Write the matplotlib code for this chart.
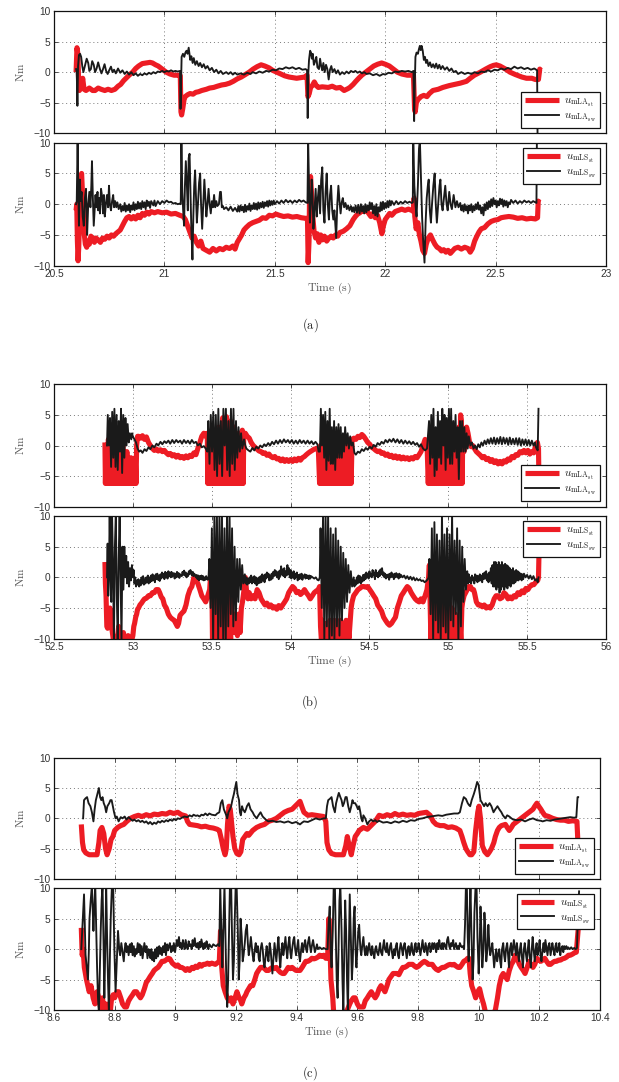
import numpy as np
import matplotlib
matplotlib.use("Agg")
import matplotlib.pyplot as plt
from matplotlib.ticker import FuncFormatter, MultipleLocator

plt.rcParams['mathtext.fontset'] = 'cm'
plt.rcParams['font.family'] = ['Liberation Sans', 'DejaVu Sans']
plt.rcParams['axes.unicode_minus'] = True

# ---------------- DATA (time s, torque Nm) ----------------
# Panel (a)
A_LA_ST = [(20.600, 0), (20.604, 4), (20.608, 3), (20.612, -2), (20.615, -3), (20.623, -2.5), (20.630, -1), (20.636, -2.8), (20.645, -3), (20.66, -2.6), (20.675, -3), (20.686, -3), (20.70, -2.6), (20.713, -2.8), (20.73, -3), (20.745, -2.8), (20.76, -3), (20.776, -2.8), (20.79, -2.3), (20.802, -2), (20.815, -1.4), (20.826, -1), (20.84, -0.5), (20.856, 0), (20.87, 0.6), (20.883, 1), (20.90, 1.4), (20.919, 1.5), (20.935, 1.6), (20.946, 1.5), (20.96, 1.2), (20.972, 1), (20.99, 0.5), (21.008, 0), (21.025, -0.3), (21.044, -0.5), (21.06, -0.5), (21.072, -0.6), (21.075, -6.5), (21.078, -7), (21.083, -6), (21.089, -4.5), (21.094, -4), (21.105, -3.7), (21.116, -3.5), (21.13, -3.6), (21.142, -3.3), (21.155, -3.2), (21.169, -3), (21.19, -2.8), (21.205, -2.6), (21.223, -2.5), (21.24, -2.3), (21.259, -2.1), (21.277, -2), (21.295, -1.8), (21.312, -1.5), (21.33, -1.1), (21.348, -0.8), (21.366, -0.4), (21.384, 0), (21.402, 0.5), (21.42, 0.9), (21.438, 1.2), (21.455, 1.0), (21.474, 0.7), (21.49, 0.3), (21.509, 0), (21.527, -0.3), (21.545, -0.6), (21.565, -0.8), (21.581, -0.9), (21.599, -1), (21.617, -0.9), (21.635, -0.8), (21.646, -0.5), (21.650, -4), (21.656, -3.5), (21.662, -2.5), (21.670, -2.2), (21.679, -1.6), (21.688, -2.2), (21.697, -2.5), (21.715, -2.4), (21.742, -2.5), (21.76, -2.3), (21.778, -2.6), (21.796, -2.5), (21.814, -3), (21.831, -2.7), (21.84, -2.5), (21.855, -2), (21.867, -1.5), (21.88, -1), (21.894, -0.5), (21.912, 0), (21.93, 0.5), (21.948, 1), (21.966, 1.3), (21.984, 1.5), (22.0, 1.3), (22.019, 1), (22.037, 0.5), (22.055, 0), (22.075, -0.3), (22.10, -0.5), (22.128, -0.5), (22.133, -6), (22.136, -6.5), (22.141, -5), (22.148, -4.5), (22.162, -4), (22.175, -3.8), (22.189, -4), (22.2, -3.5), (22.216, -3), (22.24, -2.8), (22.261, -2.5), (22.29, -2.2), (22.315, -2), (22.34, -1.8), (22.368, -1.5), (22.385, -1), (22.404, -0.5), (22.431, 0), (22.455, 0.5), (22.476, 0.9), (22.49, 1.1), (22.503, 1.2), (22.52, 1), (22.545, 0.5), (22.565, 0), (22.59, -0.4), (22.619, -0.8), (22.64, -1), (22.664, -1), (22.68, -1.2), (22.694, -1.2), (22.70, 0.5), (22.705, 0.3)]

A_LA_SW = [(20.600, 0.5), (20.603, 0), (20.606, -5.5), (20.609, 1), (20.613, 2.8), (20.618, 3), (20.623, 2.5), (20.628, 1), (20.633, 0), (20.64, 1), (20.648, 2.2), (20.655, 1.5), (20.66, 0.2), (20.667, 0.5), (20.673, 1.8), (20.68, 1.2), (20.686, 0), (20.693, 0.6), (20.70, 1.6), (20.708, 0.5), (20.715, -0.2), (20.722, 0.5), (20.729, 1.3), (20.736, 0.2), (20.743, -0.3), (20.75, 0.3), (20.758, 0.9), (20.765, 0), (20.772, 0.4), (20.78, -0.2), (20.79, 0.6), (20.80, -0.1), (20.81, 0.3), (20.82, -0.3), (20.83, 0.1), (20.84, -0.4), (20.85, 0), (20.86, -0.5), (20.87, -0.2), (20.88, -0.6), (20.89, -0.3), (20.90, -0.5), (20.91, -0.2), (20.92, -0.4), (20.93, -0.1), (20.94, -0.3), (20.95, 0), (20.96, -0.2), (20.97, 0.1), (20.98, 0), (20.99, 0.2), (21.00, 0), (21.01, 0.2), (21.02, 0.1), (21.03, 0.3), (21.04, 0.1), (21.05, 0.2), (21.06, 0.1), (21.071, 0.2), (21.073, -6), (21.076, -1), (21.078, 2.5), (21.084, 3), (21.09, 2.5), (21.095, 3.2), (21.10, 3.5), (21.105, 3), (21.11, 4), (21.113, 3.2), (21.117, 2), (21.122, 2.6), (21.128, 1.5), (21.133, 2.3), (21.14, 1.2), (21.147, 1.8), (21.155, 1), (21.162, 1.5), (21.17, 0.8), (21.178, 1.3), (21.186, 0.6), (21.195, 1), (21.205, 0.3), (21.215, 0.7), (21.225, 0), (21.235, 0.4), (21.245, -0.2), (21.255, 0.2), (21.265, -0.3), (21.28, 0), (21.29, -0.3), (21.30, 0), (21.31, -0.4), (21.32, -0.1), (21.33, -0.4), (21.345, -0.2), (21.36, -0.4), (21.375, -0.1), (21.39, -0.3), (21.40, 0), (21.415, -0.2), (21.43, 0.1), (21.445, -0.1), (21.46, 0.2), (21.475, 0.1), (21.49, 0.4), (21.505, 0.3), (21.52, 0.6), (21.535, 0.5), (21.55, 0.8), (21.565, 0.6), (21.58, 0.8), (21.595, 0.5), (21.61, 0.7), (21.625, 0.4), (21.64, 0.5), (21.646, 0.3), (21.649, -7.5), (21.652, 0), (21.655, 2), (21.66, 3.5), (21.664, 3.2), (21.668, 2.2), (21.672, 3), (21.677, 1.2), (21.683, 1.8), (21.688, 2.5), (21.693, 0.8), (21.70, 0.5), (21.705, 2.2), (21.71, 1), (21.715, 0.3), (21.72, 1.5), (21.726, 0), (21.732, 1.2), (21.738, 0.5), (21.744, -1.2), (21.75, 0.4), (21.756, 1), (21.762, 0), (21.77, 0.5), (21.778, -0.2), (21.786, 0.3), (21.795, -0.4), (21.805, 0), (21.815, -0.3), (21.825, 0.1), (21.835, -0.2), (21.845, 0.2), (21.855, 0), (21.865, 0.2), (21.875, -0.1), (21.885, 0.1), (21.895, -0.2), (21.905, 0), (21.915, -0.3), (21.93, -0.2), (21.945, -0.5), (21.96, -0.3), (21.975, -0.6), (21.99, -0.3), (22.0, -0.4), (22.015, -0.1), (22.03, -0.2), (22.045, 0.1), (22.06, 0), (22.075, 0.2), (22.09, 0.1), (22.105, 0.2), (22.12, 0), (22.128, 0.2), (22.131, -8), (22.134, -2), (22.137, 2.5), (22.142, 3.2), (22.148, 3), (22.153, 3.8), (22.157, 4.3), (22.161, 3.6), (22.165, 4.3), (22.17, 3.5), (22.175, 2), (22.18, 2.5), (22.185, 1.5), (22.19, 2), (22.196, 1), (22.203, 1.6), (22.21, 0.8), (22.217, 1.3), (22.224, 0.7), (22.231, 1.4), (22.238, 0.6), (22.245, 1.2), (22.252, 0.5), (22.26, 1), (22.27, 0.4), (22.28, 0.8), (22.29, 0.2), (22.30, 0.6), (22.31, 0), (22.32, 0.2), (22.33, -0.3), (22.345, 0), (22.36, -0.3), (22.375, -0.1), (22.39, -0.3), (22.405, 0), (22.42, -0.2), (22.435, 0.1), (22.45, 0), (22.465, 0.3), (22.48, 0.1), (22.495, 0.4), (22.51, 0.3), (22.525, 0.6), (22.54, 0.4), (22.555, 0.7), (22.57, 0.5), (22.585, 0.9), (22.60, 0.6), (22.615, 0.8), (22.63, 0.5), (22.645, 0.7), (22.66, 0.4), (22.675, 0.6), (22.688, 0.3), (22.690, -10.5)]

A_LS_ST = [(20.600, -1), (20.603, 0), (20.606, -6), (20.609, -9.2), (20.612, -7), (20.616, -2), (20.62, 4), (20.625, 5), (20.63, 1), (20.636, -4.5), (20.642, -6.5), (20.648, -7), (20.654, -6), (20.66, -6.5), (20.667, -5.2), (20.675, -5.5), (20.683, -6.2), (20.69, -5.5), (20.70, -5.8), (20.71, -6.2), (20.72, -5.5), (20.73, -5.7), (20.74, -5.2), (20.75, -5.5), (20.76, -5), (20.77, -5.2), (20.78, -4.8), (20.79, -4.5), (20.80, -4.2), (20.81, -3.5), (20.82, -2.8), (20.83, -2.2), (20.84, -2.0), (20.85, -2.4), (20.86, -2), (20.87, -2.4), (20.88, -1.8), (20.89, -2.2), (20.90, -1.5), (20.91, -1.8), (20.92, -1.3), (20.93, -1.6), (20.94, -1.2), (20.955, -1.4), (20.97, -1.2), (20.99, -1.4), (21.01, -1.3), (21.03, -1.6), (21.05, -1.5), (21.07, -1.8), (21.085, -2), (21.095, -2.5), (21.105, -3.5), (21.115, -4.5), (21.125, -5.5), (21.135, -5.2), (21.145, -6.2), (21.155, -6.8), (21.165, -6), (21.175, -7.2), (21.19, -7.5), (21.205, -7.8), (21.22, -7.2), (21.235, -7.6), (21.25, -7.2), (21.265, -7.4), (21.28, -7), (21.295, -7.2), (21.31, -6.8), (21.32, -7.3), (21.33, -6.2), (21.34, -5.6), (21.35, -5), (21.36, -4.2), (21.37, -3.8), (21.385, -3.3), (21.40, -3), (21.415, -2.8), (21.43, -2.6), (21.445, -2.2), (21.46, -2.3), (21.475, -1.8), (21.49, -1.9), (21.505, -1.6), (21.52, -1.8), (21.54, -2), (21.56, -1.9), (21.58, -2.1), (21.60, -2), (21.62, -2.2), (21.64, -2.3), (21.648, -2.3), (21.651, -9.5), (21.655, -6), (21.658, 3), (21.662, 4.5), (21.666, 2), (21.672, -2), (21.678, -4.5), (21.685, -5.5), (21.692, -4.8), (21.70, -6.2), (21.708, -5), (21.716, -5.8), (21.725, -5.2), (21.735, -6), (21.745, -5.5), (21.755, -5.2), (21.765, -5.5), (21.775, -5), (21.785, -5.2), (21.795, -4.6), (21.81, -4.4), (21.825, -4), (21.84, -3.5), (21.855, -2.5), (21.865, -2), (21.875, -1.6), (21.885, -1.4), (21.895, -1), (21.905, -1.2), (21.915, -0.8), (21.925, -1.5), (21.935, -2), (21.945, -1.5), (21.955, -2.2), (21.965, -1.8), (21.975, -3), (21.985, -4.8), (21.992, -3.5), (22.0, -2.5), (22.01, -2), (22.02, -1.5), (22.03, -1.8), (22.045, -1.2), (22.06, -1), (22.075, -0.8), (22.09, -1), (22.105, -0.8), (22.12, -1), (22.128, -1.2), (22.131, 1), (22.134, -2), (22.14, -4), (22.148, -3), (22.155, -5), (22.162, -6), (22.17, -7.5), (22.178, -8), (22.186, -6.5), (22.195, -5.5), (22.205, -5), (22.215, -5.8), (22.225, -6.5), (22.235, -7), (22.245, -7.2), (22.255, -7.6), (22.265, -7.4), (22.275, -7.8), (22.285, -7.5), (22.295, -8), (22.305, -7.6), (22.315, -7.2), (22.33, -7), (22.345, -7.3), (22.36, -7), (22.375, -7.2), (22.385, -7.8), (22.395, -7.2), (22.405, -6), (22.415, -5.2), (22.425, -4.5), (22.435, -4), (22.45, -3.8), (22.465, -3.2), (22.48, -2.8), (22.495, -2.6), (22.51, -2.5), (22.525, -2.2), (22.54, -2.1), (22.56, -2), (22.58, -2.1), (22.60, -2.3), (22.62, -2.2), (22.64, -2.4), (22.66, -2.3), (22.68, -2.4), (22.69, -2.2), (22.693, 0.5), (22.70, 0.3)]

A_LS_SW = [(20.600, 0), (20.603, 0.5), (20.607, 10.5), (20.610, 2), (20.613, -3.5), (20.617, 4), (20.621, 0.5), (20.625, 2), (20.63, -2), (20.635, -3.5), (20.64, 1), (20.645, 2.5), (20.65, -5), (20.655, 0), (20.66, 2), (20.665, -0.5), (20.669, 3), (20.672, 7), (20.676, 1), (20.68, -3.5), (20.684, -1), (20.688, 1.5), (20.692, -0.5), (20.697, 2), (20.70, -1), (20.705, 1), (20.708, -1.5), (20.713, 2.5), (20.718, 1.2), (20.722, -1.5), (20.726, 1.5), (20.73, -2), (20.735, 0), (20.74, 1.5), (20.745, -0.5), (20.749, 3), (20.753, 0), (20.758, -1), (20.763, 0.5), (20.768, 1.5), (20.772, -0.5), (20.777, 0.5), (20.782, -0.5), (20.787, 0.3), (20.793, -0.8), (20.80, 0), (20.805, -1.2), (20.81, -0.3), (20.815, -1), (20.82, 0.2), (20.825, -1.2), (20.83, -0.2), (20.835, -1), (20.84, 0), (20.845, -1.3), (20.85, -0.2), (20.855, -0.9), (20.86, 0.3), (20.865, -1), (20.87, 0), (20.875, -0.8), (20.88, 0.4), (20.885, -0.7), (20.89, 0.2), (20.895, -0.8), (20.90, 0.5), (20.905, -0.5), (20.91, 0.3), (20.915, -0.8), (20.92, 0.6), (20.925, -0.3), (20.93, 0.4), (20.935, -0.6), (20.94, 0.5), (20.95, -0.2), (20.955, 0.6), (20.96, -0.3), (20.97, 0.5), (20.98, 0), (20.99, 0.5), (21.0, 0.2), (21.01, 0.6), (21.02, 0.3), (21.03, 0.4), (21.04, 0.1), (21.05, 0.2), (21.06, 0), (21.07, 0.1), (21.074, 0), (21.077, 10.5), (21.081, 2), (21.085, -1), (21.089, -3.5), (21.093, 3), (21.097, 7), (21.102, 3), (21.106, -1), (21.11, 7.5), (21.114, 8.2), (21.118, 2), (21.122, -4), (21.127, -9), (21.131, -2), (21.135, 3), (21.139, 5.5), (21.143, 1), (21.147, -3), (21.152, 0), (21.157, 3.5), (21.162, 5), (21.166, 0), (21.171, -4), (21.176, 0), (21.181, 4), (21.186, 0.5), (21.19, -2), (21.195, 0), (21.2, 2.5), (21.205, 0), (21.21, -1.5), (21.215, 0.5), (21.22, -0.5), (21.225, 1.5), (21.23, -0.5), (21.235, 0.5), (21.24, -0.3), (21.247, 0), (21.252, 2), (21.256, 2), (21.26, -0.5), (21.265, -0.3), (21.27, -0.8), (21.28, -0.5), (21.29, -1), (21.30, -0.4), (21.31, -1.1), (21.32, -0.6), (21.33, -1.2), (21.335, -0.3), (21.34, -1.2), (21.345, -0.2), (21.35, -1), (21.355, -0.4), (21.36, -1.3), (21.365, -0.1), (21.37, -1.2), (21.375, -0.3), (21.38, -0.9), (21.385, 0.1), (21.39, -1.1), (21.395, -0.2), (21.40, -0.8), (21.405, 0.2), (21.41, -0.8), (21.415, 0.1), (21.42, -0.9), (21.425, 0.3), (21.43, -0.7), (21.435, 0.2), (21.44, -0.5), (21.445, 0.4), (21.45, -0.6), (21.455, 0.3), (21.46, -0.3), (21.465, 0.5), (21.47, -0.4), (21.475, 0.6), (21.48, -0.2), (21.485, 0.5), (21.49, -0.1), (21.495, 0.6), (21.50, 0), (21.51, 0.5), (21.52, 0.1), (21.53, 0.6), (21.54, 0.2), (21.55, 0.7), (21.56, 0.3), (21.57, 0.6), (21.58, 0.2), (21.59, 0.6), (21.60, 0.3), (21.61, 0.7), (21.62, 0.4), (21.63, 0.6), (21.64, 0.3), (21.648, 0.2), (21.651, 10.5), (21.655, 3), (21.659, -3), (21.663, 0), (21.667, 4), (21.671, 1), (21.675, -4), (21.68, -1), (21.685, 2.5), (21.69, -2), (21.695, 1), (21.70, 3), (21.705, -1.5), (21.71, 4), (21.715, 6), (21.72, -1), (21.725, -3), (21.73, 2), (21.735, 5), (21.74, 0), (21.745, -2.5), (21.75, 1.5), (21.755, 3), (21.76, -1), (21.765, -2.5), (21.77, -1), (21.778, -5.5), (21.783, 0), (21.788, 3), (21.793, 0.5), (21.798, -1.5), (21.803, 0.3), (21.808, 1), (21.814, -0.5), (21.82, 0.2), (21.826, -0.8), (21.832, -0.2), (21.838, -1), (21.845, -0.3), (21.85, -1.2), (21.855, -0.5), (21.86, -1.3), (21.866, -0.2), (21.872, -1.4), (21.878, -0.1), (21.884, -1.5), (21.89, 0), (21.895, -1.2), (21.90, -0.3), (21.905, -1.5), (21.91, 0), (21.915, -1.3), (21.92, -0.2), (21.925, -1), (21.93, 0.3), (21.935, -0.8), (21.94, 0.2), (21.945, -1.5), (21.95, -0.3), (21.955, -1.8), (21.96, 0), (21.965, -2), (21.97, -0.5), (21.975, -1.2), (21.98, 0.3), (21.985, -1), (21.99, 0.4), (21.995, -0.8), (22.0, 0.2), (22.005, -0.6), (22.01, 0.5), (22.015, -0.5), (22.02, 0.6), (22.025, -0.2), (22.03, 0.5), (22.04, -0.1), (22.05, 0.5), (22.06, 0), (22.07, 0.4), (22.08, 0.1), (22.09, 0.5), (22.10, 0.2), (22.11, 0.4), (22.12, 0.2), (22.125, 0.3), (22.127, 10.5), (22.132, 3), (22.137, 0), (22.142, -2), (22.148, 3), (22.153, 9), (22.157, 10.5), (22.162, 4), (22.167, -2), (22.172, -6), (22.178, -9.5), (22.183, -3), (22.188, 1), (22.193, 3), (22.197, 4), (22.202, -1), (22.207, -3), (22.212, 0), (22.218, 3), (22.224, 5), (22.229, 0), (22.234, -3), (22.24, 0), (22.246, 3), (22.25, 4), (22.255, 0), (22.26, -1), (22.266, 1), (22.272, 3), (22.278, 0), (22.283, -1), (22.29, 2), (22.296, 0), (22.302, -0.8), (22.31, 1.5), (22.318, -0.5), (22.325, 0.5), (22.332, -0.5), (22.34, 0.2), (22.345, -1), (22.35, -0.2), (22.355, -1.2), (22.36, 0), (22.365, -1), (22.37, -0.3), (22.375, -1.5), (22.38, -0.2), (22.385, -1), (22.39, 0), (22.395, -1.3), (22.40, -0.3), (22.405, -1), (22.41, 0), (22.415, -0.8), (22.42, 0.3), (22.425, -0.9), (22.43, -0.2), (22.435, -1.5), (22.44, -0.5), (22.445, -1.8), (22.45, 0), (22.455, -1), (22.46, 0.3), (22.465, -0.8), (22.47, 0.5), (22.475, -0.5), (22.48, 0.8), (22.485, -0.3), (22.49, 1), (22.495, 0), (22.50, 0.6), (22.505, -0.5), (22.51, 0.5), (22.515, -0.2), (22.52, 0.9), (22.525, 0), (22.53, 0.8), (22.535, -0.4), (22.54, 0.6), (22.545, -0.2), (22.55, 0.5), (22.555, -0.5), (22.56, 0.3), (22.565, 0), (22.57, 0.7), (22.58, 0.2), (22.59, 0.6), (22.60, 0.1), (22.61, 0.5), (22.62, 0.2), (22.63, 0.6), (22.64, 0.3), (22.65, 0.5), (22.66, 0.2), (22.67, 0.5), (22.68, 0.3), (22.685, 0.2), (22.687, 10.5)]

# Panel (b)
B_LA_ST = [(52.823, 0.5), (52.826, -6.2), (52.832, 0), (52.838, -6.2), (52.845, 1), (52.851, -6.2), (52.858, 3), (52.864, -6.2), (52.871, 2), (52.877, -6.2), (52.884, 0.5), (52.890, -6.2), (52.897, 1.5), (52.903, -6.2), (52.910, 0), (52.916, -6.2), (52.923, -1), (52.929, -6.2), (52.936, 0.5), (52.942, -6.2), (52.949, -2), (52.955, -6.2), (52.962, -1), (52.968, -6.2), (52.975, -3), (52.981, -6.2), (52.988, -2), (52.994, -6.2), (53.001, -3), (53.008, -6.2), (53.015, -2), (53.02, -6.2), (53.024, 0), (53.03, 1.5), (53.036, 1.5), (53.05, 1.2), (53.061, 1.6), (53.074, 1), (53.086, 1.4), (53.099, 0.5), (53.111, 0), (53.124, -0.5), (53.136, -0.8), (53.15, -0.6), (53.161, -0.9), (53.175, -0.7), (53.187, -1), (53.2, -0.8), (53.212, -1.2), (53.225, -1.5), (53.237, -1.3), (53.25, -1.7), (53.262, -1.5), (53.275, -1.9), (53.287, -1.6), (53.3, -2), (53.312, -1.8), (53.324, -2.1), (53.337, -1.7), (53.349, -2), (53.362, -1.6), (53.374, -1.8), (53.387, -1.2), (53.4, -1.5), (53.412, -0.5), (53.425, 0.5), (53.437, 1.5), (53.45, 2), (53.462, 1.5), (53.472, 2), (53.475, -6.2), (53.481, 1.5), (53.487, -6.2), (53.494, 2), (53.50, -6.2), (53.506, 0), (53.512, -6.2), (53.519, 2), (53.525, -6.2), (53.531, 1), (53.537, -6.2), (53.544, 3), (53.55, -6.2), (53.556, 2), (53.562, -6.2), (53.569, 4.5), (53.575, -6.2), (53.581, 2), (53.587, -6.2), (53.594, 4.7), (53.60, -6.2), (53.606, 3), (53.612, -6.2), (53.619, 4), (53.625, -6.2), (53.631, 2), (53.638, -6.2), (53.644, 3), (53.65, -6.2), (53.656, 1), (53.663, -6.2), (53.669, 2), (53.675, -6.2), (53.681, 0), (53.688, -6.2), (53.694, 2.5), (53.70, -6.2), (53.703, 2), (53.713, 2), (53.725, 1.5), (53.738, 1.2), (53.75, 0.5), (53.763, 0), (53.775, -0.3), (53.788, -0.6), (53.8, -0.9), (53.813, -1), (53.825, -1.3), (53.838, -1.2), (53.85, -1.6), (53.863, -1.4), (53.875, -1.8), (53.888, -2), (53.9, -1.8), (53.913, -2.2), (53.925, -2.1), (53.938, -2.5), (53.95, -2.2), (53.963, -2.6), (53.975, -2.3), (53.988, -2.6), (54.0, -2.3), (54.013, -2.6), (54.025, -2.2), (54.038, -2.5), (54.05, -2.1), (54.063, -2.4), (54.075, -2), (54.088, -1.8), (54.1, -1.5), (54.114, -1.2), (54.125, -1), (54.138, -0.8), (54.15, -0.6), (54.164, -0.5), (54.176, -0.5), (54.184, -6.2), (54.19, 0), (54.197, -6.2), (54.203, 1), (54.209, -6.2), (54.216, 0), (54.222, -6.2), (54.228, 1), (54.234, -6.2), (54.241, -1), (54.247, -6.2), (54.253, 0.5), (54.259, -6.2), (54.266, -1), (54.272, -6.2), (54.278, 0), (54.284, -6.2), (54.291, -1.5), (54.297, -6.2), (54.303, 0.5), (54.309, -6.2), (54.316, -0.5), (54.322, -6.2), (54.328, 1), (54.334, -6.2), (54.341, 0), (54.347, -6.2), (54.353, 1), (54.359, -6.2), (54.366, 0.5), (54.372, -6.2), (54.378, 1), (54.384, -6.2), (54.39, 1), (54.402, 1.2), (54.414, 1), (54.427, 1.5), (54.439, 1.3), (54.452, 1.8), (54.464, 1.5), (54.477, 1), (54.489, 0.5), (54.502, 0.2), (54.515, -0.3), (54.527, -0.5), (54.54, -0.8), (54.552, -1), (54.565, -0.9), (54.577, -1.3), (54.59, -1.2), (54.602, -1.6), (54.615, -1.4), (54.627, -1.8), (54.64, -1.6), (54.652, -2), (54.665, -1.7), (54.677, -2.1), (54.69, -1.8), (54.702, -2.2), (54.715, -1.9), (54.727, -2.2), (54.74, -2), (54.752, -2.3), (54.765, -2), (54.777, -2.2), (54.79, -1.8), (54.802, -2), (54.815, -1.5), (54.827, -1), (54.84, 0), (54.853, 1), (54.865, 0.5), (54.873, -6.2), (54.879, 0), (54.885, -6.2), (54.892, 1), (54.898, -6.2), (54.904, -0.5), (54.91, -6.2), (54.917, 1), (54.923, -6.2), (54.929, 0), (54.935, -6.2), (54.942, 1.5), (54.948, -6.2), (54.954, -1), (54.96, -6.2), (54.967, 0.5), (54.973, -6.2), (54.979, -1), (54.985, -6.2), (54.992, 0), (54.998, -6.2), (55.004, 1), (55.01, -6.2), (55.017, -1), (55.023, -6.2), (55.029, 0), (55.035, -6.2), (55.042, -1), (55.048, -6.2), (55.054, 2), (55.06, -6.2), (55.067, 3), (55.073, -6.2), (55.078, 5), (55.083, 4), (55.088, -6.2), (55.091, 0), (55.1, -1), (55.11, 1), (55.116, 3), (55.125, 2), (55.135, 0.5), (55.145, -0.2), (55.155, 0), (55.166, -0.5), (55.178, -1), (55.19, -1.3), (55.203, -1.6), (55.216, -2), (55.228, -1.8), (55.241, -2.3), (55.253, -2.1), (55.266, -2.6), (55.278, -2.3), (55.291, -2.8), (55.303, -2.5), (55.316, -3), (55.328, -2.6), (55.341, -3), (55.353, -2.5), (55.366, -2.7), (55.378, -2.2), (55.391, -2.4), (55.403, -1.8), (55.416, -2), (55.428, -1.5), (55.441, -1.6), (55.454, -1), (55.467, -1.2), (55.48, -0.8), (55.492, -1.2), (55.505, -0.8), (55.517, -1.4), (55.53, -1), (55.542, -1.2), (55.554, 0), (55.565, 0.5), (55.572, -0.5), (55.575, -6.2)]

B_LA_SW = [(52.836, 0), (52.841, 5), (52.848, 0), (52.855, 4.5), (52.862, -3.5), (52.869, 5.5), (52.876, -2), (52.883, 6), (52.89, -3.5), (52.897, 5), (52.904, -4), (52.911, 4), (52.918, -1), (52.925, 6), (52.932, -4.5), (52.939, 5), (52.946, -2), (52.953, 4.5), (52.96, 0), (52.967, 3.5), (52.974, 0.5), (52.981, 2), (52.99, 1), (52.995, 2), (53.0, 1.5), (53.01, 1), (53.02, 0.5), (53.03, -0.5), (53.04, -1), (53.05, -0.8), (53.061, -1.2), (53.074, -0.6), (53.086, -0.9), (53.099, -0.3), (53.111, -0.6), (53.124, 0), (53.136, -0.3), (53.15, 0.3), (53.161, 0), (53.175, 0.6), (53.187, 0.2), (53.2, 0.7), (53.212, 0.4), (53.225, 0.8), (53.237, 0.3), (53.25, 0.9), (53.262, 0.4), (53.275, 0.9), (53.287, 0.5), (53.3, 0.8), (53.312, 0.3), (53.324, 0.9), (53.337, 0.4), (53.349, 0.8), (53.362, 0.3), (53.374, 0.9), (53.387, 0.4), (53.4, 0.6), (53.412, 0), (53.425, 0.3), (53.437, -0.3), (53.45, -0.1), (53.462, -0.5), (53.472, -1), (53.478, 4), (53.486, -3), (53.494, 5), (53.502, -1), (53.51, 5.5), (53.518, -4), (53.526, 5), (53.534, -5), (53.542, 6), (53.55, -3), (53.558, 4), (53.566, -5), (53.574, 6), (53.582, 0), (53.59, 6), (53.598, -4), (53.606, 4), (53.614, -5), (53.622, 6), (53.63, -3), (53.638, 6), (53.646, -4), (53.654, 4), (53.662, -2), (53.67, 3), (53.678, -1), (53.686, 2), (53.694, -0.5), (53.705, 1), (53.713, 0), (53.72, -0.5), (53.733, -0.8), (53.745, -1), (53.758, -0.4), (53.77, -0.8), (53.783, -0.2), (53.795, -0.5), (53.808, 0), (53.82, -0.3), (53.833, 0.2), (53.845, -0.1), (53.858, 0.4), (53.87, 0), (53.883, 0.6), (53.895, 0.2), (53.908, 0.8), (53.92, 0.3), (53.933, 0.9), (53.945, 0.4), (53.958, 1), (53.97, 0.5), (53.983, 0.9), (53.995, 0.4), (54.008, 0.9), (54.02, 0.3), (54.033, 0.8), (54.045, 0.3), (54.058, 0.9), (54.07, 0.4), (54.083, 0.8), (54.095, 0.3), (54.108, 0.8), (54.12, 0.3), (54.133, 0.7), (54.145, 0.2), (54.158, 0.6), (54.17, 0.2), (54.178, -1), (54.186, -1), (54.192, 6), (54.199, 0), (54.206, 5), (54.213, -2), (54.22, 5.5), (54.227, -4), (54.234, 4), (54.241, -2.5), (54.248, 6), (54.255, -3), (54.262, 3), (54.269, -3), (54.276, 4), (54.283, -4), (54.29, 3), (54.297, -2), (54.304, 3.5), (54.311, -2), (54.318, 3), (54.325, -2), (54.332, 2), (54.339, -1), (54.346, 3), (54.354, 0), (54.362, 2), (54.37, -0.5), (54.378, 1.5), (54.386, 0), (54.395, 0.5), (54.405, -1.2), (54.414, -1.5), (54.427, -1), (54.439, -1.2), (54.452, -0.6), (54.464, -0.9), (54.477, -0.4), (54.489, -0.7), (54.502, -0.2), (54.515, -0.5), (54.527, 0.1), (54.54, -0.2), (54.552, 0.4), (54.565, 0.1), (54.577, 0.6), (54.59, 0.3), (54.602, 0.9), (54.615, 0.5), (54.627, 1), (54.64, 0.6), (54.652, 1.1), (54.665, 0.5), (54.677, 1), (54.69, 0.4), (54.702, 0.9), (54.715, 0.3), (54.727, 0.8), (54.74, 0.3), (54.752, 0.7), (54.765, 0.2), (54.777, 0.6), (54.79, 0.1), (54.802, 0.4), (54.815, -0.2), (54.827, 0.2), (54.84, -0.5), (54.853, -0.8), (54.865, -0.5), (54.878, 4), (54.885, -3), (54.892, 5), (54.899, -2), (54.906, 6), (54.913, -5), (54.92, 3), (54.927, -4), (54.934, 5.5), (54.941, -2), (54.948, 4), (54.955, -3), (54.962, 6), (54.969, 0), (54.976, 5), (54.983, -4), (54.99, 4.5), (54.997, -2), (55.004, 6), (55.011, -3), (55.018, 6), (55.025, -3), (55.032, 4), (55.039, -1), (55.046, 5), (55.053, -2), (55.06, 3), (55.067, -5.5), (55.074, 4), (55.081, -1), (55.088, 4), (55.095, -1), (55.102, 3), (55.109, -1), (55.116, 2), (55.123, -0.5), (55.13, 1.5), (55.14, 0), (55.15, 0.5), (55.16, -0.5), (55.17, 0), (55.18, -0.6), (55.19, 0.2), (55.2, -0.3), (55.21, 0.5), (55.22, 0), (55.23, 0.8), (55.24, 0.2), (55.25, 1), (55.26, 0.3), (55.27, 1.2), (55.28, 0.3), (55.29, 1.3), (55.3, 0.2), (55.31, 1.2), (55.32, 0.3), (55.33, 1.4), (55.34, 0.2), (55.35, 1.3), (55.36, 0.3), (55.37, 1.2), (55.38, 0.1), (55.39, 1.3), (55.4, 0.2), (55.41, 1.1), (55.42, 0.2), (55.43, 1.2), (55.44, 0.1), (55.45, 1.2), (55.46, 0), (55.47, 1), (55.48, 0.1), (55.49, 1), (55.5, 0), (55.51, 0.9), (55.52, 0), (55.53, 0.8), (55.54, 0), (55.55, 0.5), (55.555, -0.2), (55.56, -0.5), (55.567, -0.8), (55.572, 6)]

B_LS_ST = [(52.823, 2.5), (52.826, -1), (52.83, -3), (52.835, -8), (52.84, -8.3), (52.845, -6), (52.85, -8), (52.855, -5), (52.86, -7.5), (52.865, -8), (52.87, -9), (52.878, -10.5), (52.89, -10.5), (52.90, -10.5), (52.91, -8), (52.92, -10.5), (52.93, -10.5), (52.94, -9), (52.95, -10.5), (52.96, -10.5), (52.97, -9.5), (52.98, -10.5), (52.99, -10.5), (53.0, -9.5), (53.006, -8), (53.011, -7.5), (53.018, -6.5), (53.024, -6), (53.03, -5.2), (53.036, -5), (53.045, -4.5), (53.055, -4.2), (53.065, -3.8), (53.074, -3.5), (53.086, -3.4), (53.099, -3), (53.111, -3), (53.124, -2.5), (53.136, -2.5), (53.148, -2), (53.161, -2), (53.17, -2.5), (53.18, -3.2), (53.19, -3.5), (53.2, -4.5), (53.212, -5), (53.225, -6), (53.237, -6.5), (53.25, -6.8), (53.262, -7), (53.272, -7.5), (53.282, -8), (53.29, -7.5), (53.299, -6.2), (53.312, -5.8), (53.324, -5.5), (53.337, -4.5), (53.349, -3), (53.362, -2), (53.374, -1.5), (53.387, 0), (53.4, -0.5), (53.412, -1), (53.425, -2), (53.437, -3), (53.45, -3.5), (53.462, -4), (53.475, -3), (53.487, -2), (53.495, 1), (53.5, 2), (53.505, -10.5), (53.51, -5), (53.515, -10.5), (53.52, -2), (53.525, -10.5), (53.53, -8), (53.535, -10.5), (53.54, 0), (53.545, -10.5), (53.55, -6), (53.555, -10.5), (53.56, -4), (53.565, -10.5), (53.57, -7), (53.575, -10.5), (53.58, -3), (53.585, -10.5), (53.59, -6), (53.595, -10.5), (53.6, -2), (53.605, -8), (53.61, -10.5), (53.615, -6), (53.62, -10.5), (53.625, -3), (53.63, -9), (53.638, -8), (53.645, -6), (53.65, -9), (53.655, -7), (53.663, -9.5), (53.67, -6), (53.68, -9), (53.688, -5), (53.695, -4), (53.705, -2), (53.713, 0), (53.72, -2), (53.73, -3.5), (53.738, -2.5), (53.75, -3.5), (53.763, -3), (53.775, -3.5), (53.788, -2), (53.8, -2.5), (53.813, -3.5), (53.825, -4), (53.838, -4.5), (53.85, -4.2), (53.863, -4.8), (53.875, -4.5), (53.888, -5), (53.9, -4.8), (53.913, -5.2), (53.925, -4.6), (53.938, -5), (53.95, -4.5), (53.963, -4), (53.975, -3.5), (53.988, -2.5), (54.0, -2), (54.013, -1.5), (54.025, -1.8), (54.038, -2.5), (54.05, -2.3), (54.063, -2.8), (54.075, -2.5), (54.088, -2), (54.1, -2.5), (54.114, -3), (54.125, -3.5), (54.138, -3), (54.15, -2.5), (54.164, -2.2), (54.176, -2), (54.184, -1.5), (54.19, -8), (54.196, -10.5), (54.202, -7), (54.208, -10), (54.214, -8), (54.22, -10.5), (54.226, -7.5), (54.232, -9.5), (54.238, -8), (54.244, -10.5), (54.25, -7), (54.256, -9), (54.262, -10.5), (54.268, -7), (54.274, -9), (54.28, -8), (54.286, -10.5), (54.292, -7), (54.298, -9.5), (54.304, -8), (54.31, -10), (54.316, -7), (54.322, -9), (54.328, -7.5), (54.334, -10.5), (54.34, -8), (54.346, -9), (54.352, -7), (54.358, -9.5), (54.364, -8), (54.37, -10), (54.378, -7), (54.384, -5), (54.39, -4), (54.4, -3), (54.414, -2.5), (54.427, -2), (54.439, -1.8), (54.452, -1.5), (54.464, -1.5), (54.477, -1.6), (54.489, -1.5), (54.502, -2), (54.515, -2.5), (54.527, -3), (54.54, -3.5), (54.552, -4.5), (54.565, -5), (54.577, -5.5), (54.59, -6.5), (54.602, -7), (54.615, -7.5), (54.627, -7.8), (54.64, -7.5), (54.652, -7), (54.665, -6.5), (54.677, -5), (54.69, -4), (54.702, -3), (54.715, -2.5), (54.727, -2), (54.74, -1.5), (54.752, -1.8), (54.765, -2.5), (54.777, -3), (54.79, -3.5), (54.802, -3.8), (54.815, -4), (54.827, -3.5), (54.84, -4), (54.853, -3), (54.865, -2), (54.875, 0), (54.88, 2), (54.885, -4), (54.89, -10.5), (54.895, -3), (54.9, -10.5), (54.905, -6), (54.91, -10.5), (54.915, -2), (54.92, -10.5), (54.925, -8), (54.93, -10.5), (54.935, -4), (54.94, -10.5), (54.945, -7), (54.95, -10.5), (54.955, -5), (54.96, -10.5), (54.965, -8), (54.97, -10.5), (54.975, -3), (54.98, -10.5), (54.985, -6), (54.99, -10.5), (54.995, -8), (55.0, -10.5), (55.005, -4), (55.01, -10.5), (55.015, -7), (55.02, -10.5), (55.025, -5), (55.03, -10.5), (55.035, -8), (55.04, -10.5), (55.045, -6), (55.05, -10.5), (55.055, -8), (55.06, -10.5), (55.065, -7), (55.07, -10.5), (55.075, -8), (55.08, -10.5), (55.086, -5), (55.091, -4), (55.1, -3), (55.11, -2.5), (55.12, -2), (55.13, -1.5), (55.141, -1.5), (55.15, -2), (55.16, -2), (55.166, -2.5), (55.178, -4), (55.19, -4.5), (55.203, -4.5), (55.216, -4.8), (55.228, -4.5), (55.241, -5), (55.253, -4.8), (55.266, -5), (55.278, -4.5), (55.291, -3.5), (55.303, -3), (55.316, -3), (55.328, -3.5), (55.341, -3.3), (55.353, -2.5), (55.366, -2.8), (55.378, -3.5), (55.391, -3.2), (55.403, -3.5), (55.416, -3), (55.428, -3.2), (55.441, -2.5), (55.454, -2.8), (55.467, -2.2), (55.48, -2.5), (55.492, -1.8), (55.505, -2), (55.517, -1.5), (55.53, -1.2), (55.542, -1.2), (55.554, -0.8), (55.567, -0.5), (55.572, 0), (55.576, 5)]

B_LS_SW = [(52.836, 0), (52.84, 5.5), (52.844, -3), (52.849, 2), (52.853, 10.5), (52.858, 0), (52.863, -4), (52.868, 10.5), (52.874, 2), (52.88, -10.5), (52.886, 5), (52.892, 10.5), (52.898, -3), (52.904, -10.5), (52.91, 3), (52.916, 10.5), (52.922, 0), (52.928, -10.5), (52.934, 5), (52.94, -2), (52.946, 5), (52.952, 0), (52.958, 3.5), (52.964, -1), (52.97, 2.5), (52.976, -1.5), (52.982, 1.5), (52.988, -0.5), (52.994, 2), (53.0, 0), (53.005, 1.2), (53.01, -1), (53.015, 0), (53.02, -1.5), (53.025, -0.5), (53.03, -1.2), (53.035, -0.3), (53.04, -1.5), (53.045, -0.5), (53.05, -1.3), (53.055, 0), (53.06, -1), (53.065, 0.2), (53.07, -1.2), (53.075, -0.3), (53.08, -1), (53.085, 0), (53.09, -0.8), (53.095, 0.3), (53.1, -1), (53.105, 0), (53.11, -0.8), (53.115, 0.3), (53.12, -0.6), (53.125, 0.5), (53.13, -0.5), (53.135, 0.2), (53.14, -0.8), (53.145, 0.5), (53.15, -0.3), (53.155, 0.6), (53.16, -0.4), (53.165, 0.3), (53.17, -0.6), (53.175, 0.5), (53.18, -0.2), (53.185, 0.8), (53.19, 0), (53.195, 0.6), (53.2, -0.3), (53.205, 0.9), (53.21, 0), (53.215, 0.7), (53.22, -0.2), (53.225, 1), (53.23, 0.2), (53.235, 0.8), (53.24, 0), (53.245, 0.9), (53.25, 0.1), (53.26, 0.7), (53.265, -0.2), (53.27, 0.6), (53.275, 0), (53.28, 0.9), (53.285, 0.1), (53.29, 0.7), (53.295, -0.1), (53.3, 0.5), (53.31, 0.2), (53.315, 0.9), (53.32, 0.4), (53.325, 1.1), (53.33, 0.3), (53.335, 0.8), (53.34, 0), (53.345, 0.6), (53.35, 0.2), (53.355, 1), (53.36, 0.5), (53.365, 1.2), (53.37, 0.8), (53.375, 0.3), (53.38, 0.9), (53.385, 0.2), (53.39, 0.6), (53.4, 0), (53.405, 0.4), (53.41, -0.3), (53.415, 0.3), (53.42, -0.5), (53.425, 0.2), (53.43, -0.3), (53.435, 0.3), (53.44, -0.4), (53.445, 0.2), (53.45, -0.5), (53.455, 0), (53.46, -0.4), (53.465, 0.2), (53.47, -0.2), (53.475, -0.4), (53.48, 0), (53.485, 3), (53.493, -5), (53.501, 8), (53.509, -10.5), (53.517, 10.5), (53.525, -6), (53.533, 10.5), (53.541, -10.5), (53.549, 10.5), (53.557, -8), (53.565, 10.5), (53.573, -10.5), (53.581, 8), (53.589, -10.5), (53.597, 10.5), (53.605, -8), (53.613, 10.5), (53.621, -6), (53.629, 8), (53.637, -8), (53.645, 5), (53.653, -7), (53.661, 3), (53.669, -4), (53.677, 3), (53.685, -2), (53.693, 2), (53.70, -1), (53.71, 0.5), (53.715, -1), (53.72, 0), (53.725, -1.2), (53.73, -0.3), (53.735, -1), (53.74, 0), (53.745, -0.8), (53.75, 0.3), (53.755, -1), (53.76, 0), (53.765, -0.8), (53.77, 0.2), (53.775, -1), (53.78, 0), (53.785, -1.3), (53.79, -0.2), (53.795, -1), (53.8, 0), (53.805, -0.9), (53.81, 0.2), (53.815, -0.8), (53.82, 0.5), (53.825, -0.5), (53.83, 0.3), (53.835, -0.8), (53.84, 0.5), (53.845, -0.2), (53.85, 0.8), (53.855, 0), (53.86, 0.6), (53.865, -0.5), (53.87, 0.3), (53.875, -0.4), (53.88, 0.6), (53.885, -0.2), (53.89, 0.9), (53.895, 0.2), (53.9, 1.2), (53.905, 0.3), (53.91, 1), (53.915, 0), (53.92, 0.8), (53.925, -0.3), (53.93, 1.1), (53.935, 0.2), (53.94, 1.8), (53.945, 0.5), (53.95, 1.3), (53.955, 0.2), (53.96, 1.5), (53.965, 0), (53.97, 1), (53.975, 0.3), (53.98, 2), (53.985, 0.5), (53.99, 1.5), (53.995, 0), (54.0, 1.2), (54.005, -0.2), (54.01, 0.8), (54.015, 0), (54.02, 1), (54.025, -0.3), (54.03, 0.6), (54.035, 0), (54.04, 0.8), (54.045, -0.5), (54.05, 0.4), (54.055, -0.3), (54.06, 0.5), (54.065, -0.2), (54.07, 0.6), (54.075, -0.4), (54.08, 0.3), (54.085, 0), (54.09, 0.5), (54.095, -0.2), (54.1, 0.4), (54.105, -0.1), (54.11, 0.3), (54.115, -0.3), (54.12, 0.3), (54.125, -0.2), (54.13, 0.2), (54.14, 0), (54.15, -0.2), (54.16, 0), (54.17, -0.4), (54.178, -0.5), (54.185, 0), (54.19, 8), (54.198, -5), (54.206, 10.5), (54.214, -10.5), (54.222, 10.5), (54.23, -8), (54.238, 10.5), (54.246, -10.5), (54.254, 8), (54.262, -9.5), (54.27, 7), (54.278, -10.5), (54.286, 8), (54.294, -8), (54.302, 6), (54.31, -9.5), (54.318, 5), (54.326, -7), (54.334, 4), (54.342, -5), (54.35, 3), (54.358, -4), (54.366, 2), (54.374, -2.5), (54.382, 1), (54.39, -1.5), (54.4, 0), (54.405, -1.5), (54.41, -0.5), (54.415, -1.2), (54.42, 0), (54.425, -1), (54.43, 0.3), (54.435, -0.8), (54.44, 0.2), (54.445, -1), (54.45, 0), (54.455, -0.7), (54.46, 0.4), (54.465, -0.5), (54.47, 0.5), (54.475, -0.3), (54.48, 0.8), (54.485, 0), (54.49, 0.6), (54.495, -0.2), (54.5, 1), (54.505, 0.2), (54.51, 0.6), (54.515, 0), (54.52, 1.2), (54.525, 0.3), (54.53, 0.8), (54.535, -0.3), (54.54, 1.2), (54.545, 0.2), (54.55, 0.7), (54.555, 0), (54.56, 1), (54.565, 0.2), (54.57, 1.3), (54.575, 0.5), (54.58, 1.5), (54.585, 0.3), (54.59, 0.8), (54.595, 0), (54.6, 0.6), (54.605, -0.2), (54.61, 0.4), (54.615, 0), (54.62, 0.5), (54.625, -0.4), (54.63, 0.6), (54.635, 0), (54.64, 0.8), (54.645, 0.1), (54.65, 0.5), (54.655, -0.3), (54.66, 0.6), (54.665, 0), (54.67, 0.7), (54.675, 0.1), (54.68, 0.5), (54.685, -0.2), (54.69, 0.6), (54.695, 0), (54.7, 0.4), (54.71, 0), (54.72, 0.3), (54.73, -0.2), (54.74, 0.2), (54.75, -0.3), (54.76, 0.1), (54.77, -0.4), (54.78, 0), (54.79, -0.5), (54.8, -0.2), (54.81, -0.5), (54.82, -0.3), (54.83, -0.6), (54.84, -0.5), (54.85, -0.8), (54.86, -0.6), (54.87, -0.3), (54.875, 0), (54.88, 3), (54.888, -6), (54.896, 8), (54.904, -10.5), (54.912, 9), (54.92, -7), (54.928, 7), (54.936, -9), (54.944, 6), (54.952, -10.5), (54.96, 10.5), (54.968, -8), (54.976, 7), (54.984, -9), (54.992, 8), (55.0, -10.5), (55.008, 7), (55.016, -7), (55.024, 10.5), (55.032, -8), (55.04, 6), (55.048, -6), (55.056, 8), (55.064, -10.5), (55.072, 6), (55.08, -8), (55.088, 5), (55.096, -4), (55.104, 3), (55.112, -2), (55.12, 1), (55.125, -1), (55.13, 0.5), (55.135, -0.8), (55.14, 0), (55.145, -1), (55.15, 0.3), (55.155, -0.5), (55.16, 0), (55.165, -1), (55.17, 0.5), (55.175, -0.5), (55.18, 0.3), (55.185, -0.8), (55.19, 0.2), (55.195, -0.6), (55.2, 0.5), (55.205, -0.5), (55.21, 0.3), (55.215, -0.8), (55.22, 0.6), (55.225, -0.3), (55.23, 0.8), (55.235, -0.2), (55.24, 1), (55.245, -0.5), (55.25, 0.5), (55.255, -0.8), (55.26, 0.8), (55.265, -0.5), (55.27, 1.5), (55.275, -1), (55.28, 2), (55.285, -1.5), (55.29, 2.5), (55.295, -1.5), (55.3, 2.5), (55.305, -2), (55.31, 2), (55.315, -1.5), (55.32, 2.5), (55.325, -2.5), (55.33, 2), (55.335, -2), (55.34, 2.5), (55.345, -1.5), (55.35, 2), (55.355, -2), (55.36, 2.2), (55.365, -1.5), (55.37, 2), (55.375, -1.8), (55.38, 1.8), (55.385, -1.2), (55.39, 1.5), (55.395, -1.5), (55.4, 1.2), (55.405, -1), (55.41, 1.5), (55.415, -1), (55.42, 1), (55.425, -0.8), (55.43, 1.2), (55.435, -0.5), (55.44, 1), (55.445, -0.5), (55.45, 0.8), (55.455, -0.3), (55.46, 0.6), (55.465, -0.5), (55.47, 0.5), (55.475, -0.3), (55.48, 0.6), (55.49, 0), (55.5, 0.4), (55.51, -0.2), (55.52, 0.3), (55.53, -0.3), (55.54, 0.2), (55.55, -0.5), (55.56, -0.3), (55.567, -0.8), (55.572, 0)]

# Panel (c)
C_LA_ST = [(8.690, -1), (8.694, -4), (8.698, -5.2), (8.705, -5.7), (8.716, -6), (8.73, -6), (8.742, -6), (8.748, -4), (8.752, -2), (8.758, -1.5), (8.764, -2.5), (8.770, -5), (8.775, -6), (8.782, -5), (8.788, -3.5), (8.794, -3), (8.80, -2), (8.81, -1.5), (8.82, -1.2), (8.83, -1), (8.84, -0.5), (8.852, 0), (8.865, 0.3), (8.878, 0.5), (8.89, 0.3), (8.904, 0.6), (8.917, 0.4), (8.93, 0.7), (8.943, 0.6), (8.956, 0.8), (8.97, 0.7), (8.982, 1), (8.995, 0.8), (9.008, 1), (9.02, 0.6), (9.034, 0.4), (9.04, -0.5), (9.047, -1), (9.06, -1.1), (9.073, -1.2), (9.086, -1.4), (9.099, -1.3), (9.112, -1.5), (9.125, -1.6), (9.138, -1.8), (9.145, -2), (9.152, -3.5), (9.158, -5), (9.164, -6), (9.168, -5), (9.172, -1), (9.177, 2), (9.181, 1.5), (9.186, -1), (9.19, -3), (9.196, -5), (9.203, -5.8), (9.21, -6), (9.216, -5.5), (9.222, -3.5), (9.229, -3), (9.236, -2.5), (9.242, -2.8), (9.255, -2), (9.268, -1.5), (9.281, -1.2), (9.294, -1), (9.307, -0.5), (9.32, -0.3), (9.333, 0), (9.346, 0.5), (9.359, 1), (9.372, 1.3), (9.385, 1.5), (9.395, 2), (9.405, 2.5), (9.411, 2.8), (9.418, 1.8), (9.424, 1), (9.437, 0.5), (9.45, 0.6), (9.463, 0.5), (9.476, 0.4), (9.489, 0.3), (9.496, -0.5), (9.50, -4), (9.506, -5.2), (9.515, -5.8), (9.528, -6), (9.541, -6), (9.554, -6), (9.562, -4.5), (9.567, -3), (9.573, -4.5), (9.58, -6), (9.586, -4.5), (9.593, -3), (9.60, -2.5), (9.606, -2), (9.62, -1.5), (9.633, -1.8), (9.645, -1.2), (9.659, -0.5), (9.672, 0.5), (9.685, 0.3), (9.698, 0.6), (9.711, 0.4), (9.724, 0.8), (9.737, 0.5), (9.75, 0.7), (9.763, 0.5), (9.776, 0.6), (9.789, 0.5), (9.802, 0.8), (9.815, 0.9), (9.828, 1), (9.84, 0.5), (9.85, -0.5), (9.86, -1), (9.873, -1.2), (9.886, -1.2), (9.899, -1.5), (9.912, -1.4), (9.925, -1.6), (9.938, -2), (9.945, -3), (9.951, -4), (9.958, -5), (9.964, -5.5), (9.971, -6), (9.977, -6), (9.984, -5.5), (9.99, -2), (9.997, 1), (10.001, 2), (10.006, 0), (10.012, -4.5), (10.02, -5.5), (10.029, -6), (10.036, -5.5), (10.042, -5), (10.05, -4), (10.055, -3), (10.062, -2), (10.068, -1.5), (10.075, -1.2), (10.088, -1), (10.094, -1.5), (10.101, -2), (10.108, -1.5), (10.114, -1), (10.127, -0.5), (10.14, 0), (10.153, 0.5), (10.166, 1), (10.179, 1.5), (10.185, 2), (10.192, 2.5), (10.198, 2), (10.205, 1.5), (10.211, 1), (10.218, 0.5), (10.231, 0.3), (10.244, 0), (10.257, -0.2), (10.27, -0.3), (10.283, -0.3), (10.296, -0.5), (10.31, -0.4), (10.324, -0.5), (10.329, -6)]

C_LA_SW = [(8.696, 0), (8.699, 3), (8.704, 3.3), (8.709, 3.5), (8.714, 2.5), (8.72, 2), (8.725, 1), (8.73, -0.5), (8.734, 1.5), (8.738, 3), (8.743, 4), (8.748, 5), (8.752, 3.5), (8.756, 3), (8.76, 3.5), (8.764, 2.5), (8.768, 2), (8.772, 1), (8.776, 2), (8.782, 2.5), (8.786, 3), (8.79, 3), (8.794, 2), (8.798, 1), (8.803, 0), (8.807, 0.3), (8.813, -0.5), (8.82, 0.2), (8.826, 0), (8.833, 0.3), (8.839, -0.2), (8.846, 0.2), (8.852, -0.1), (8.859, -0.4), (8.865, -0.2), (8.872, -0.5), (8.878, -0.3), (8.885, -0.6), (8.891, -0.4), (8.898, -0.7), (8.904, -0.5), (8.911, -0.9), (8.917, -0.6), (8.924, -1), (8.93, -0.7), (8.937, -0.9), (8.943, -0.5), (8.95, -0.7), (8.956, -0.4), (8.963, -0.6), (8.97, -0.3), (8.976, -0.5), (8.982, -0.2), (8.99, -0.4), (8.995, -0.1), (9.002, -0.3), (9.008, 0), (9.015, -0.1), (9.021, 0.1), (9.03, 0.3), (9.04, 0.2), (9.047, 0.5), (9.055, 0.3), (9.06, 0.6), (9.068, 0.4), (9.073, 0.5), (9.08, 0.3), (9.086, 0.6), (9.093, 0.5), (9.099, 0.8), (9.106, 0.5), (9.112, 0.8), (9.12, 0.6), (9.132, 0.5), (9.138, 0.8), (9.145, 1), (9.15, 2.5), (9.155, 3), (9.16, 1.5), (9.164, 1), (9.168, 0.5), (9.171, 0), (9.175, 1), (9.18, 1.5), (9.184, 2), (9.188, 3), (9.193, 4), (9.197, 5), (9.201, 6), (9.205, 4), (9.21, 3), (9.213, 1), (9.216, 0.5), (9.22, 2), (9.223, 1.5), (9.229, 1), (9.233, 1.5), (9.236, 2), (9.242, 2.5), (9.248, 1.5), (9.255, 1), (9.26, 0.5), (9.268, 0), (9.274, 0.5), (9.281, 1), (9.288, 0.3), (9.294, 0), (9.3, -0.3), (9.307, -0.5), (9.32, -0.4), (9.333, -0.6), (9.346, -0.5), (9.359, -0.7), (9.372, -0.5), (9.385, -0.8), (9.398, -0.6), (9.411, -1), (9.418, -0.7), (9.424, -0.5), (9.437, -0.6), (9.45, -0.3), (9.463, 0), (9.476, -0.2), (9.489, 0), (9.496, 0), (9.5, 2), (9.504, 3), (9.509, 3.2), (9.515, 3.5), (9.52, 2), (9.526, 1), (9.53, 2.5), (9.535, 3.5), (9.539, 4.2), (9.544, 3.5), (9.548, 3), (9.552, 2), (9.556, 2.5), (9.561, 3.5), (9.565, 3.5), (9.57, 2), (9.575, 1), (9.58, 2), (9.584, 3), (9.588, 2.5), (9.593, 2.5), (9.598, 2), (9.602, 1.5), (9.606, 2), (9.61, 1), (9.613, 0), (9.617, -0.5), (9.62, 0.5), (9.626, 0), (9.633, -1), (9.639, -0.5), (9.646, -0.2), (9.652, -0.5), (9.659, -0.3), (9.665, -0.6), (9.672, -0.4), (9.685, -0.7), (9.698, -0.6), (9.711, -0.8), (9.724, -0.5), (9.737, -0.7), (9.75, -0.4), (9.763, -0.6), (9.776, -0.3), (9.789, -0.4), (9.802, -0.1), (9.815, 0), (9.828, 0.2), (9.841, 0.3), (9.854, 0.4), (9.867, 0.5), (9.88, 0.4), (9.893, 0.6), (9.906, 0.7), (9.919, 0.8), (9.932, 0.8), (9.938, 1), (9.945, 2.5), (9.951, 3.5), (9.958, 3.2), (9.964, 2.5), (9.968, 2.2), (9.972, 2), (9.977, 3), (9.984, 4), (9.99, 5), (9.995, 6), (10.0, 5.5), (10.006, 3), (10.012, 2.5), (10.018, 2), (10.023, 2.5), (10.029, 2), (10.036, 2.5), (10.042, 2), (10.049, 1), (10.055, 1.5), (10.062, 2), (10.068, 1.5), (10.075, 1), (10.08, 0.5), (10.088, 0), (10.094, 0.5), (10.101, 0.3), (10.108, 0), (10.114, -0.2), (10.127, -0.3), (10.14, -0.2), (10.153, -0.5), (10.166, -0.2), (10.179, 0), (10.192, -0.3), (10.205, -0.4), (10.211, -0.5), (10.224, -0.3), (10.237, -0.4), (10.25, -0.2), (10.263, -0.1), (10.276, 0), (10.289, 0.1), (10.302, 0.2), (10.315, 0.1), (10.322, 0.2), (10.326, 3.5), (10.328, 3.5)]

C_LS_ST = [(8.690, 3.5), (8.693, -1), (8.696, 0), (8.70, -3), (8.707, -5), (8.716, -7), (8.722, -6), (8.729, -8), (8.735, -9), (8.742, -7), (8.748, -8), (8.755, -10), (8.76, -8), (8.765, -10.5), (8.77, -9), (8.775, -10.5), (8.78, -9), (8.785, -10.5), (8.79, -8), (8.795, -7.5), (8.80, -8), (8.807, -7), (8.813, -7), (8.82, -8), (8.826, -9), (8.833, -9.5), (8.839, -9.5), (8.846, -8.5), (8.852, -8), (8.859, -7.5), (8.865, -7), (8.872, -7), (8.878, -7.5), (8.885, -8), (8.891, -7.5), (8.898, -6.5), (8.904, -5.5), (8.911, -5), (8.917, -4.5), (8.924, -4), (8.93, -3.5), (8.937, -3.2), (8.943, -3), (8.95, -2.5), (8.956, -2), (8.963, -2), (8.969, -1.8), (8.976, -1.5), (8.982, -1.6), (8.99, -2.3), (8.995, -2.5), (9.002, -2.8), (9.008, -2.6), (9.015, -3), (9.021, -3), (9.028, -3.2), (9.034, -3.5), (9.04, -3.2), (9.047, -3.5), (9.055, -3), (9.06, -3.2), (9.067, -2.8), (9.073, -3), (9.08, -2.5), (9.086, -2.8), (9.093, -2.5), (9.099, -2.5), (9.106, -2.3), (9.112, -2.5), (9.12, -2.3), (9.132, -2.5), (9.14, -2.2), (9.145, -2), (9.149, 3), (9.153, -3), (9.158, -6), (9.164, -7), (9.171, -8), (9.177, -8.5), (9.184, -8), (9.19, -9), (9.197, -8), (9.203, -7), (9.21, -8), (9.216, -8.5), (9.219, -9), (9.226, -8), (9.232, -7.5), (9.236, -7), (9.242, -6.5), (9.248, -6), (9.255, -6), (9.262, -5), (9.268, -4), (9.274, -3.5), (9.281, -3), (9.288, -3), (9.294, -3.2), (9.3, -3.5), (9.307, -3.5), (9.314, -3.2), (9.32, -3), (9.327, -3.2), (9.333, -3), (9.34, -3.5), (9.346, -3.8), (9.353, -4), (9.359, -4), (9.366, -3.5), (9.372, -3), (9.379, -3.2), (9.385, -3), (9.392, -3.3), (9.398, -3.5), (9.405, -3.5), (9.411, -3.5), (9.418, -3), (9.424, -2.5), (9.43, -2), (9.437, -2), (9.444, -1.8), (9.45, -1.5), (9.457, -1.6), (9.463, -1.5), (9.47, -1.3), (9.476, -1), (9.483, -1.2), (9.489, -1), (9.496, -1.5), (9.502, -1.5), (9.506, 5), (9.509, 2), (9.513, -5), (9.519, -8), (9.522, -10.5), (9.53, -10.5), (9.54, -10.5), (9.55, -10.5), (9.56, -10.5), (9.567, -10), (9.575, -9), (9.58, -8.5), (9.587, -8), (9.593, -8), (9.6, -9), (9.606, -9.5), (9.613, -9.5), (9.62, -9.5), (9.626, -8.5), (9.633, -8), (9.639, -7.5), (9.646, -7), (9.652, -7.5), (9.659, -8), (9.665, -7.5), (9.672, -6.5), (9.678, -6), (9.685, -6.5), (9.691, -7), (9.698, -6), (9.704, -5), (9.711, -4.5), (9.718, -4), (9.724, -4), (9.73, -4), (9.737, -4.2), (9.744, -3.5), (9.75, -3), (9.756, -3), (9.763, -2.8), (9.77, -2.5), (9.776, -2.5), (9.782, -2.5), (9.789, -2.8), (9.795, -3), (9.802, -2.8), (9.808, -2.5), (9.815, -2.2), (9.821, -2), (9.828, -2.2), (9.834, -2.5), (9.841, -2.5), (9.847, -2.5), (9.854, -3), (9.86, -3.3), (9.867, -3.5), (9.874, -3.2), (9.88, -3), (9.887, -3), (9.893, -2.8), (9.9, -2.6), (9.906, -2.5), (9.913, -2.6), (9.919, -2.5), (9.926, -2.8), (9.932, -3), (9.938, -3), (9.945, -2.5), (9.951, -2), (9.958, -1.8), (9.964, -1.5), (9.968, -1.5), (9.972, -4), (9.977, -6), (9.984, -7), (9.99, -8), (9.997, -7), (10.003, -6.5), (10.01, -8), (10.016, -9), (10.023, -10.5), (10.03, -10.5), (10.04, -10.5), (10.049, -10.5), (10.055, -10), (10.062, -8), (10.068, -6), (10.075, -4.5), (10.081, -4), (10.088, -4.5), (10.094, -5), (10.101, -3.5), (10.108, -2.5), (10.114, -2), (10.12, -1), (10.127, -1.5), (10.134, -2.5), (10.14, -3), (10.147, -3.5), (10.153, -4), (10.16, -3), (10.166, -2), (10.172, -2.5), (10.179, -3), (10.185, -2.5), (10.192, -1.5), (10.198, -1.8), (10.205, -2), (10.211, -1.8), (10.218, -1.5), (10.224, -2), (10.231, -2.5), (10.237, -2.5), (10.244, -2.2), (10.25, -2), (10.257, -2), (10.263, -1.8), (10.27, -1.8), (10.276, -1.6), (10.283, -1.5), (10.29, -1.3), (10.296, -1), (10.302, -1), (10.31, -0.8), (10.316, -0.6), (10.322, -0.5), (10.326, 2), (10.33, 4.5)]

C_LS_SW = [(8.690, 0), (8.695, 5), (8.699, 9), (8.702, 3), (8.704, -1), (8.708, -3), (8.712, -5), (8.715, 0), (8.717, 5), (8.721, 8), (8.725, 10.5), (8.728, 6), (8.73, 3), (8.733, 7), (8.736, 10.5), (8.739, 4), (8.742, -3), (8.745, -8), (8.748, -10.5), (8.751, -4), (8.754, 3), (8.757, 8), (8.760, 10.5), (8.763, 2), (8.766, -8), (8.769, 0), (8.772, 10.5), (8.775, 2), (8.778, -5), (8.781, -10.5), (8.784, -2), (8.787, 5), (8.791, 10.5), (8.795, 10.5), (8.799, 0), (8.803, -7), (8.807, -2), (8.811, 3), (8.815, 0), (8.818, -1), (8.822, 1), (8.826, -0.5), (8.830, -2), (8.833, 0), (8.836, 1), (8.839, -0.5), (8.843, 0.5), (8.846, -1), (8.85, 0.8), (8.853, -0.5), (8.856, 1), (8.859, -1), (8.863, 0.5), (8.866, -1.2), (8.869, 0), (8.872, -0.8), (8.876, 1), (8.879, -0.5), (8.882, 0.8), (8.885, -1), (8.889, 0.5), (8.892, -1.5), (8.895, -0.3), (8.898, 1), (8.902, -0.5), (8.905, 0.5), (8.908, -1.5), (8.912, 0), (8.915, -1), (8.918, -1.5), (8.921, 0), (8.924, -1.8), (8.927, -0.5), (8.930, -2), (8.934, 0), (8.937, -1.5), (8.94, 0.3), (8.943, -1.2), (8.947, 0.5), (8.95, -0.8), (8.953, 0.2), (8.956, -1), (8.96, 0.5), (8.963, -0.5), (8.966, 1), (8.969, -1), (8.973, 0.8), (8.976, -0.2), (8.979, 0.5), (8.982, 1), (8.986, -0.5), (8.989, 0.5), (8.992, -0.3), (8.995, 1), (8.999, -0.5), (9.002, 0.5), (9.005, 1.5), (9.008, 0.5), (9.012, 2), (9.015, 0.3), (9.018, 1), (9.021, 0), (9.025, 1.5), (9.028, 0.5), (9.031, 0), (9.034, 1.5), (9.038, 0.3), (9.041, 0), (9.044, 1.3), (9.047, 0.5), (9.05, 0.8), (9.054, 0), (9.057, 1.5), (9.06, 0.5), (9.064, 1.8), (9.067, 0.5), (9.07, 0.3), (9.073, 1), (9.077, 0), (9.08, 1.2), (9.083, 0.3), (9.086, 1.6), (9.09, 0.5), (9.093, 0), (9.096, 1), (9.099, 0.2), (9.103, 1.3), (9.106, 0.5), (9.109, 0), (9.112, 0.8), (9.116, 0.5), (9.12, 0.3), (9.125, 0.8), (9.13, 0.6), (9.135, 0.5), (9.14, 0.8), (9.145, 0.5), (9.148, 10.5), (9.152, 2), (9.155, -3), (9.159, 5), (9.162, 10.5), (9.165, 3), (9.168, -5), (9.171, -9.5), (9.174, -5), (9.177, 3), (9.18, 10.5), (9.184, 10.5), (9.187, 2), (9.19, -5), (9.193, -2), (9.196, 5), (9.199, 10.5), (9.202, 10.5), (9.206, 3), (9.209, -5), (9.212, -2), (9.215, 5), (9.219, 2), (9.222, -2), (9.225, -1), (9.229, 1), (9.232, 3), (9.236, 4), (9.239, 1), (9.242, -1), (9.245, 0), (9.249, 2), (9.252, 0.5), (9.255, -1), (9.258, -2), (9.262, 0), (9.265, 1), (9.268, -0.5), (9.272, 0.5), (9.275, -1.5), (9.278, -2), (9.281, 0), (9.285, 1), (9.288, 0), (9.291, -2), (9.294, -3), (9.298, -1), (9.301, 0.5), (9.304, -1), (9.307, -2), (9.311, 1), (9.314, 0), (9.317, -2), (9.32, -4), (9.324, -1), (9.327, 1), (9.33, -0.5), (9.333, -2), (9.337, 0.5), (9.34, 2), (9.343, -1), (9.346, -3), (9.35, 0), (9.353, 1), (9.356, -1), (9.359, 0), (9.363, 2), (9.366, 0), (9.369, -1.5), (9.372, 0.5), (9.376, 2), (9.379, -0.5), (9.382, -1.5), (9.385, 0), (9.389, 1.5), (9.392, 2), (9.395, 0), (9.398, -1), (9.402, 0.5), (9.405, 1.5), (9.408, -1), (9.411, -2), (9.415, 0), (9.418, 1), (9.421, -0.5), (9.424, 0.5), (9.428, 1.5), (9.431, 0), (9.434, -0.5), (9.437, 1), (9.441, 2), (9.444, 0.5), (9.447, -0.5), (9.45, 0.5), (9.454, 1.5), (9.457, 0.5), (9.46, -0.5), (9.463, 0), (9.467, 0.8), (9.47, 0), (9.476, 0.3), (9.483, 0), (9.489, 0.2), (9.496, 0), (9.502, 0), (9.505, 4), (9.509, 7), (9.512, 0), (9.515, -3), (9.519, 3), (9.522, 10), (9.526, 10.5), (9.529, 2), (9.532, -5), (9.535, -8), (9.538, 0), (9.541, 8), (9.544, 10.5), (9.548, 3), (9.551, -5), (9.554, -10.5), (9.557, 0), (9.56, 8), (9.563, 3), (9.566, -5), (9.569, -10.5), (9.572, 0), (9.575, 9), (9.578, 3), (9.582, -5), (9.585, -2), (9.588, 5), (9.591, 7), (9.594, 0), (9.597, -3), (9.6, 0), (9.603, 3), (9.606, 4), (9.61, 0), (9.613, -1), (9.616, 0.5), (9.62, 2), (9.623, 0), (9.626, -1), (9.63, 0.5), (9.633, -1), (9.636, 0), (9.639, 1), (9.643, -0.5), (9.646, -1), (9.649, 0.5), (9.652, -0.5), (9.656, -1.5), (9.659, 0), (9.662, 0.5), (9.665, -0.5), (9.669, -1), (9.672, 0), (9.675, 1), (9.678, -0.5), (9.682, -1), (9.685, 0.5), (9.688, 1.5), (9.691, 0), (9.695, -0.5), (9.698, 1), (9.701, -0.5), (9.704, -1), (9.708, 0.5), (9.711, 1), (9.714, -0.5), (9.717, -1.5), (9.721, 0), (9.724, -1), (9.727, 0.5), (9.73, 1), (9.734, -1), (9.737, -1.5), (9.74, 0), (9.743, 1), (9.747, 0), (9.75, -1), (9.753, 0.5), (9.756, 1), (9.76, -0.5), (9.763, -1.5), (9.766, 0), (9.769, 0.5), (9.773, -1), (9.776, 0), (9.779, 1), (9.782, -0.5), (9.786, -1), (9.789, 0.5), (9.792, 1), (9.795, -0.5), (9.799, 0), (9.802, 1), (9.805, 0), (9.808, -1), (9.812, 0.5), (9.815, 1.5), (9.818, 0), (9.821, -0.5), (9.825, 1), (9.828, 0), (9.831, -1), (9.834, 0.5), (9.838, 1), (9.841, -0.5), (9.844, 0), (9.847, 1), (9.851, 0), (9.854, 1), (9.857, 0.5), (9.86, -0.5), (9.864, 1), (9.867, 0), (9.87, 1.5), (9.873, 0.5), (9.877, 0), (9.88, 1), (9.883, 0), (9.886, 1), (9.89, 0.5), (9.893, 0), (9.896, 1.5), (9.899, 2), (9.903, 0.5), (9.906, 0), (9.909, 1), (9.912, 0.5), (9.916, 1.5), (9.919, 0), (9.922, 0.5), (9.925, 1), (9.929, 0), (9.932, 0.5), (9.935, 0), (9.938, 1), (9.942, 0.5), (9.945, 0.3), (9.948, 0.5), (9.952, 0), (9.955, 4), (9.958, 10.5), (9.961, 10.5), (9.964, 2), (9.967, -2), (9.97, 5), (9.973, 10.5), (9.976, 3), (9.98, -5), (9.983, -2), (9.986, 6), (9.99, 10.5), (9.993, 10.5), (9.996, 2), (10.0, -4), (10.003, 0), (10.006, 7), (10.009, 3), (10.012, -3), (10.016, 0), (10.019, 6), (10.022, 3), (10.025, -2), (10.029, 0), (10.032, 4), (10.035, 1), (10.038, -1), (10.042, 0), (10.045, 1), (10.048, -1), (10.051, -3), (10.055, -1), (10.058, 0), (10.061, -2), (10.064, -1), (10.068, 0), (10.071, -2), (10.074, -3), (10.077, 0), (10.081, 1), (10.084, -1), (10.087, -2), (10.09, 0), (10.094, 1), (10.097, -1), (10.1, -3), (10.103, 0), (10.107, 1), (10.11, -1), (10.113, 0), (10.116, 1.5), (10.12, 0), (10.123, -1), (10.126, 1), (10.129, -0.5), (10.133, -2), (10.136, 0), (10.139, 1), (10.142, -1), (10.146, -3), (10.149, 0), (10.152, 1), (10.155, -0.5), (10.159, -2), (10.162, 0), (10.165, 1.5), (10.168, -1), (10.172, -3), (10.175, 0), (10.178, 2), (10.181, 0), (10.185, -2), (10.188, 0), (10.191, 1), (10.194, -1), (10.198, 0), (10.201, 1.5), (10.204, -1), (10.207, -2), (10.211, 0), (10.214, 1), (10.217, -0.5), (10.22, 1.5), (10.224, 0), (10.227, -1), (10.23, 0.5), (10.233, 1), (10.237, -1), (10.24, 0), (10.243, 1), (10.246, 0), (10.25, -1), (10.253, 0.5), (10.256, 1), (10.259, -0.5), (10.263, 0), (10.266, 1), (10.269, -1), (10.272, 0), (10.276, 0.5), (10.279, -0.5), (10.282, 0.5), (10.285, 0), (10.289, 0.5), (10.292, 0), (10.295, 0.3), (10.3, 0), (10.305, 0.3), (10.31, 0), (10.315, 0.2), (10.32, 0), (10.324, 0.2), (10.327, 5), (10.331, 9.5)]

PANELS = [
    dict(label='(a)', xlim=(20.5, 23.0), step=0.5,
         top=(A_LA_ST, A_LA_SW), bot=(A_LS_ST, A_LS_SW)),
    dict(label='(b)', xlim=(52.5, 56.0), step=0.5,
         top=(B_LA_ST, B_LA_SW), bot=(B_LS_ST, B_LS_SW)),
    dict(label='(c)', xlim=(8.6, 10.4), step=0.2,
         top=(C_LA_ST, C_LA_SW), bot=(C_LS_ST, C_LS_SW)),
]
LEG_TOP = [r'$u_{\mathrm{mLA}_{\mathrm{st}}}$', r'$u_{\mathrm{mLA}_{\mathrm{sw}}}$']
LEG_BOT = [r'$u_{\mathrm{mLS}_{\mathrm{st}}}$', r'$u_{\mathrm{mLS}_{\mathrm{sw}}}$']

# ---------------- LAYOUT ----------------
W, H = 619, 1082
fig = plt.figure(figsize=(W / 100, H / 100), dpi=100)

# (top_px, bottom_px) of each axes, right edge px
AX_PX = [((11, 133.3), (142.7, 265.7), 606),
         ((384.3, 506.7), (516, 638.7), 606),
         ((757.7, 879), (888.3, 1010), 600)]
CAP_Y = [325, 702, 1073]
LEFT = 54

RED = '#ED1C24'
BLACK = '#1A1A1A'
TXT = '#333333'

fmt = FuncFormatter(lambda v, p: ('%g' % round(v, 3)).replace('-', '\u2212'))


def style_axes(ax, panel, show_xlabels):
    ax.set_xlim(*panel['xlim'])
    ax.set_ylim(-10, 10)
    ax.xaxis.set_major_locator(MultipleLocator(panel['step']))
    ax.yaxis.set_major_locator(MultipleLocator(5))
    ax.yaxis.set_major_formatter(fmt)
    ax.xaxis.set_major_formatter(fmt)
    ax.grid(True, color='#7a7a7a', linestyle=(0, (1, 3)), linewidth=0.7)
    ax.tick_params(direction='in', top=True, right=True, length=3,
                   width=0.6, labelsize=7.3, colors=TXT, pad=2.5)
    ax.tick_params(axis='x', labelbottom=show_xlabels)
    for s in ax.spines.values():
        s.set_linewidth(0.9)
        s.set_color('#111111')
    ax.set_ylabel(r'$\mathrm{Nm}$', fontsize=8, color='#555555', labelpad=5)


for i, panel in enumerate(PANELS):
    (t_top, b_top), (t_bot, b_bot), right = AX_PX[i]
    width = (right - LEFT) / W
    for j, (ytop, ybot) in enumerate([(t_top, b_top), (t_bot, b_bot)]):
        ax = fig.add_axes([LEFT / W, 1 - ybot / H, width, (ybot - ytop) / H])
        key = 'top' if j == 0 else 'bot'
        st, sw = panel[key]
        st = np.array(st)
        sw = np.array(sw)
        labels = LEG_TOP if j == 0 else LEG_BOT
        ax.plot(st[:, 0], st[:, 1], color=RED, lw=3.7, label=labels[0],
                solid_joinstyle='round', solid_capstyle='butt')
        ax.plot(sw[:, 0], sw[:, 1], color=BLACK, lw=1.35, label=labels[1],
                solid_joinstyle='round')
        style_axes(ax, panel, show_xlabels=(j == 1))
        leg_kw = dict(borderaxespad=0, borderpad=0.35, labelspacing=0.15,
                      handlelength=3.0, handletextpad=0.5, handleheight=0.7,
                      fontsize=8, fancybox=False, framealpha=1,
                      edgecolor='#111111')
        if j == 0:
            leg = ax.legend(loc='lower right', bbox_to_anchor=(0.989, 0.045),
                            **leg_kw)
        else:
            leg = ax.legend(loc='upper right', bbox_to_anchor=(0.989, 0.957),
                            **leg_kw)
        leg.get_frame().set_linewidth(0.9)
        for txt in leg.get_texts():
            txt.set_color('#222222')
        leg.set_zorder(10)
        if j == 1:
            ax.set_xlabel(r'$\mathrm{Time\ (s)}$', fontsize=8.5,
                          color='#555555', labelpad=1)

    fig.text(310 / W, 1 - CAP_Y[i] / H, r'$\mathrm{%s}$' % panel['label'],
             ha='center', va='center', fontsize=9, color='#222222')

fig.savefig('out.png', dpi=100)
